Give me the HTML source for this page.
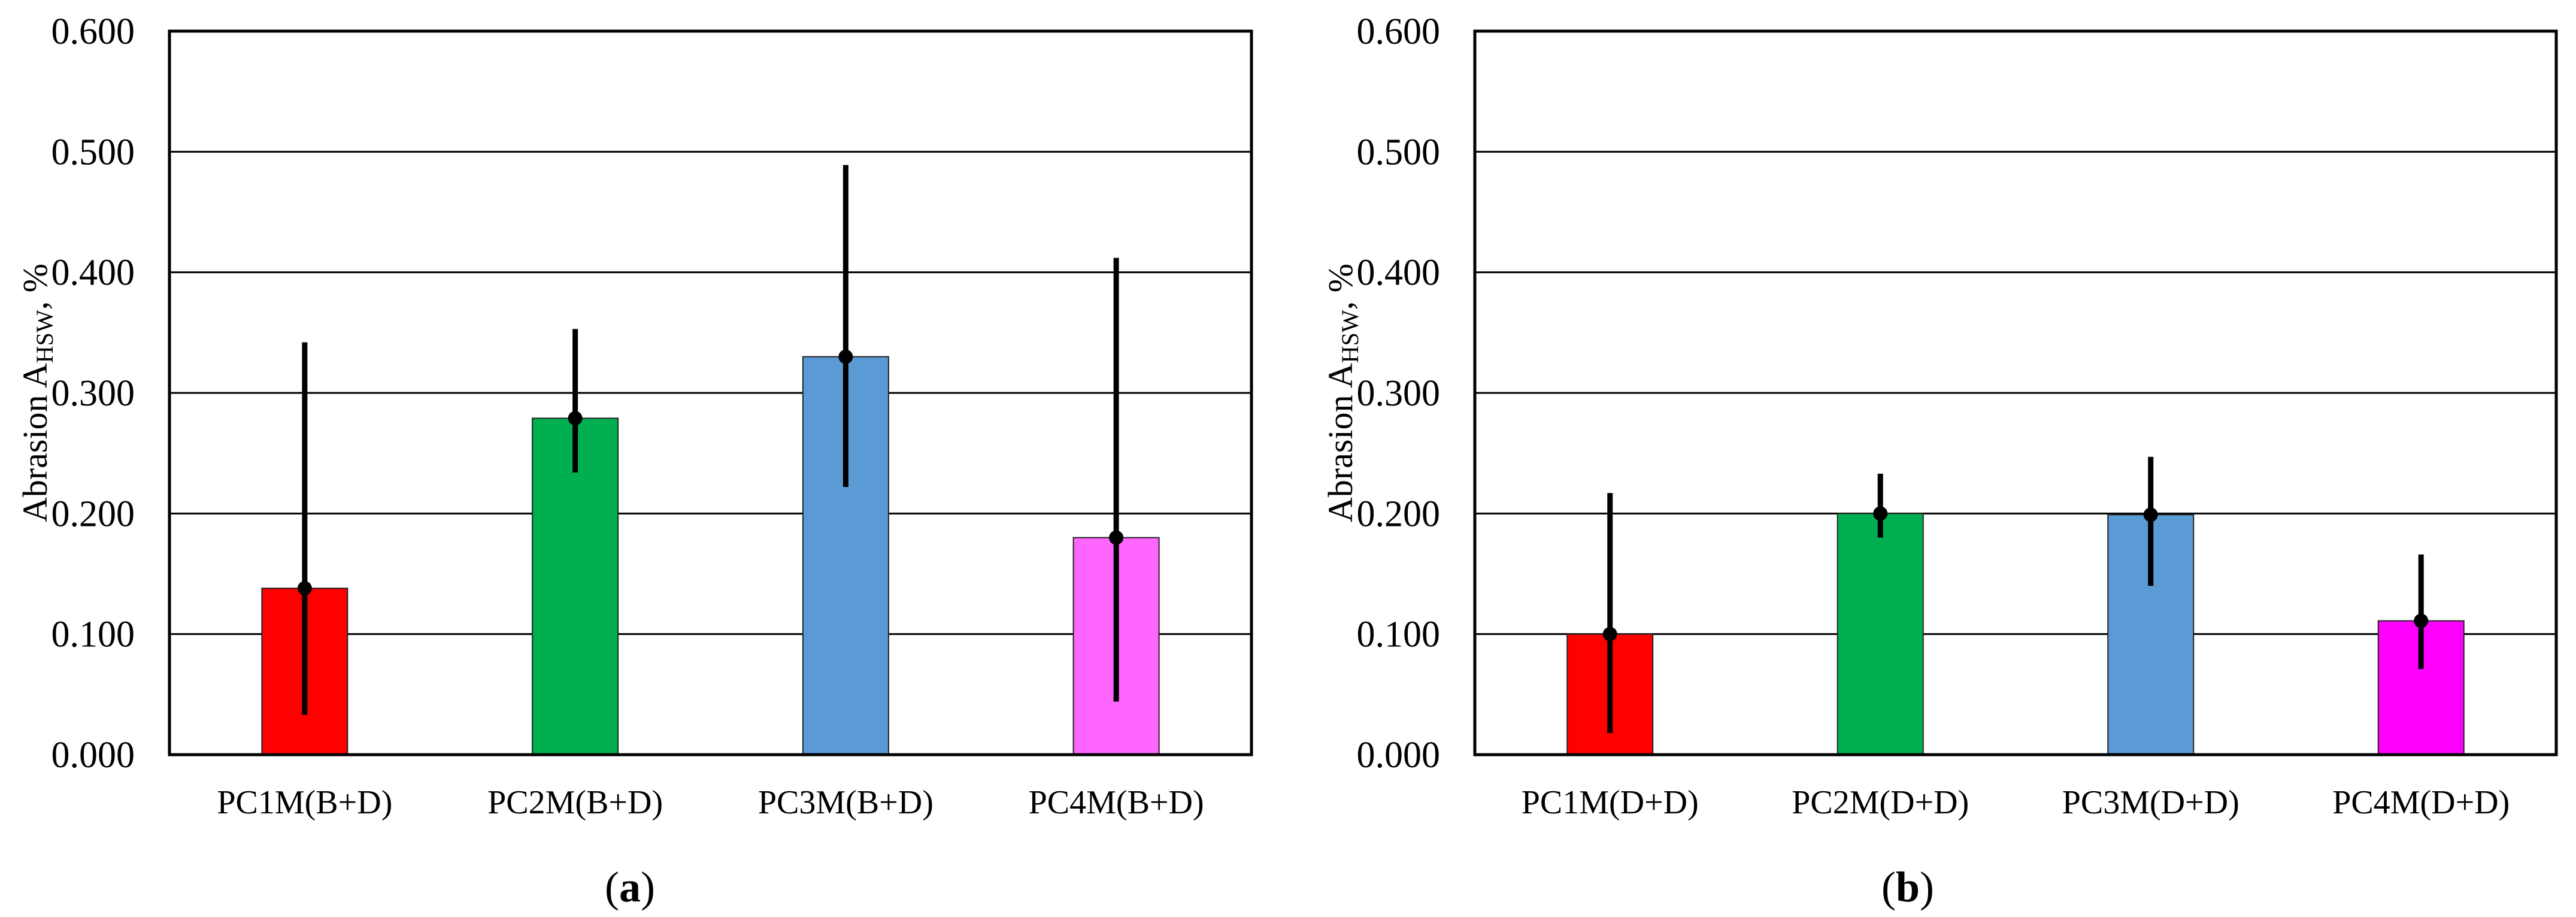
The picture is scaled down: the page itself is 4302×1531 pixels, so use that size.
<!DOCTYPE html>
<html><head><meta charset="utf-8"><style>
html,body{margin:0;padding:0;background:#fff;}
svg{display:block;}
text{font-family:"Liberation Serif",serif;fill:#000;}
</style></head><body>
<svg id="chart" width="4302" height="1531" viewBox="0 0 4302 1531" xmlns="http://www.w3.org/2000/svg"></svg>
<script>
const categoriesA = ["PC1M(B+D)","PC2M(B+D)","PC3M(B+D)","PC4M(B+D)"];
const valuesA = [0.138,0.279,0.330,0.180];
const errLowA = [0.033,0.234,0.222,0.044];
const errHighA = [0.342,0.353,0.489,0.412];
const colorsA = ["#ff0000","#00b050","#5b9bd5","#ff66ff"];
const categoriesB = ["PC1M(D+D)","PC2M(D+D)","PC3M(D+D)","PC4M(D+D)"];
const valuesB = [0.100,0.200,0.199,0.111];
const errLowB = [0.018,0.180,0.140,0.071];
const errHighB = [0.217,0.233,0.247,0.166];
const colorsB = ["#ff0000","#00b050","#5b9bd5","#ff00ff"];
const yTicks = [0,0.1,0.2,0.3,0.4,0.5,0.6];
const yTickLabels = ["0.000","0.100","0.200","0.300","0.400","0.500","0.600"];

const NS="http://www.w3.org/2000/svg";
const svg=document.getElementById('chart');
function mk(tag,attrs,parent){const e=document.createElementNS(NS,tag);for(const k in attrs)e.setAttribute(k,attrs[k]);(parent||svg).appendChild(e);return e;}

function panel(key,x0,x1,cats,vals,lo,hi,cols,sub,subX){
  const top=52,bot=1260,ymax=0.6;
  const g=mk('g',{});
  
  
  const yS=v=>bot-(v/ymax)*(bot-top);
  const cw=(x1-x0)/cats.length;
  const xS=i=>x0+cw*(i+0.5);
  yTicks.forEach((t,i)=>{
    if(t>0&&t<ymax){const l=mk('line',{x1:x0,x2:x1,y1:yS(t),y2:yS(t),stroke:'#000','stroke-width':3},g);
      
      }
    const tx=mk('text',{x:x0-58,y:yS(t)+21,'text-anchor':'end','font-size':62},g);
    
    
    tx.textContent=yTickLabels[i];
  });
  cats.forEach((c,i)=>{
    const bw=143,cx=xS(i);
    const r=mk('rect',{x:cx-bw/2,y:yS(vals[i]),width:bw,height:bot-yS(vals[i]),fill:cols[i],stroke:'#222','stroke-width':2},g);
    
    
  });
  const f=mk('rect',{x:x0,y:top,width:x1-x0,height:bot-top,fill:'none',stroke:'#000','stroke-width':5},g);
  
  
  cats.forEach((c,i)=>{
    const cx=xS(i);
    const e=mk('line',{x1:cx,x2:cx,y1:yS(lo[i]),y2:yS(hi[i]),stroke:'#000','stroke-width':9},g);
    
    
    const d=mk('circle',{cx:cx,cy:yS(vals[i]),r:12,fill:'#000'},g);
    
    
    const t=mk('text',{x:cx,y:1358,'text-anchor':'middle','font-size':56},g);
    
    
    t.textContent=c;
  });
  const yt=mk('text',{transform:`translate(${x0-205},${(top+bot)/2}) rotate(-90)`,'text-anchor':'middle','font-size':58},g);
  
  
  yt.innerHTML='Abrasion A<tspan font-size="40" dy="10">HSW</tspan><tspan dy="-10">, %</tspan>';
  const s=mk('text',{x:subX,y:1505,'text-anchor':'middle','font-size':72},g);
  
  
  s.innerHTML='(<tspan font-weight="bold">'+sub+'</tspan>)';
}
panel('a',283,2090,categoriesA,valuesA,errLowA,errHighA,colorsA,'a',1052);
panel('b',2463,4269,categoriesB,valuesB,errLowB,errHighB,colorsB,'b',3186);
</script>
</body></html>
